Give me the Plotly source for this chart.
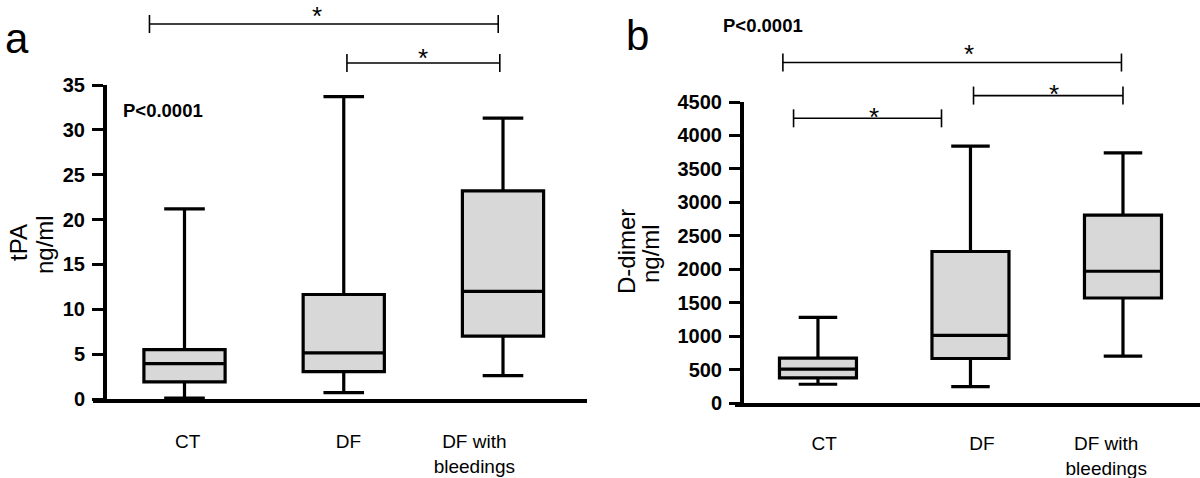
import plotly.graph_objects as go

# ---------------- data ----------------
categories = ["CT", "DF", "DF with<br>bleedings"]

# panel a : tPA (ng/ml)
tpa_lower = [0.1, 0.7, 2.6]
tpa_q1 = [1.9, 3.05, 7.0]
tpa_median = [3.95, 5.15, 12.0]
tpa_q3 = [5.5, 11.65, 23.2]
tpa_upper = [21.2, 33.7, 31.3]
tpa_ticks = [0, 5, 10, 15, 20, 25, 30, 35]

# panel b : D-dimer (ng/ml)
dd_lower = [280, 245, 700]
dd_q1 = [375, 665, 1570]
dd_median = [505, 1010, 1970]
dd_q3 = [670, 2265, 2810]
dd_upper = [1280, 3840, 3740]
dd_ticks = [0, 500, 1000, 1500, 2000, 2500, 3000, 3500, 4000, 4500]

# significance brackets: from, to (category position), height, star position, star height
tpa_brackets = [(-0.22, 1.97, 41.8, 0.83, 43.4), (1.02, 1.98, 37.45, 1.5, 38.7)]
dd_brackets = [(-0.23, 1.99, 5090, 0.99, 5306), (1.02, 2.0, 4596, 1.55, 4709),
               (-0.16, 0.81, 4256, 0.37, 4365)]

p_text = "P<0.0001"

# ---------------- layout constants ----------------
W, H = 1200, 478
FONT = "Liberation Sans, Arial, Helvetica, sans-serif"
positions = list(range(len(categories)))

# panel geometry
xa_dom = [93 / W, 587 / W]
xa_rng = [-0.5746, 2.5275]
ya_dom = [(H - 399) / H, (H - 85) / H]
ya_rng = [0, 35]
ya_pos = 105 / W
xa_lab_off = [0.02, 0.03, -0.18]

xb_dom = [735 / W, 1.0]
xb_rng = [-0.544, 2.505]
yb_dom = [(H - 403) / H, (H - 102) / H]
yb_rng = [0, 4500]
yb_pos = 742 / W
xb_lab_off = [0.04, 0.075, -0.11]


def to_paper(v, dom, rng):
    return dom[0] + (v - rng[0]) / (rng[1] - rng[0]) * (dom[1] - dom[0])


fig = go.Figure()

box_style = dict(fillcolor="#d8d8d8", line=dict(color="black", width=3.2),
                 whiskerwidth=0.5, boxpoints=False, showlegend=False)

fig.add_trace(go.Box(x=positions, lowerfence=tpa_lower, q1=tpa_q1, median=tpa_median,
                     q3=tpa_q3, upperfence=tpa_upper, width=0.51,
                     xaxis="x", yaxis="y", **box_style))
fig.add_trace(go.Box(x=positions, lowerfence=dd_lower, q1=dd_q1, median=dd_median,
                     q3=dd_q3, upperfence=dd_upper, width=0.505,
                     xaxis="x2", yaxis="y2", **box_style))

xcommon = dict(showline=True, linewidth=4, linecolor="black", ticks="", showgrid=False,
               zeroline=False, tickfont=dict(family=FONT, size=19, color="black"),
               automargin=False, fixedrange=True)
ycommon = dict(showline=True, linewidth=4, linecolor="black", ticks="outside", ticklen=11,
               tickwidth=3, tickcolor="black", showgrid=False, zeroline=False,
               tickfont=dict(family=FONT, size=20, color="black", weight="bold"),
               ticklabelstandoff=3, anchor="free", automargin=False, fixedrange=True)

fig.update_layout(
    width=W, height=H, margin=dict(l=0, r=0, t=0, b=0, pad=0, autoexpand=False),
    paper_bgcolor="white", plot_bgcolor="white",
    font=dict(family=FONT, color="black"),
    xaxis=dict(domain=xa_dom, range=xa_rng, anchor="y", ticklabelstandoff=22,
               tickvals=[p + o for p, o in zip(positions, xa_lab_off)],
               ticktext=categories, **xcommon),
    yaxis=dict(domain=ya_dom, range=ya_rng, position=ya_pos, tickvals=tpa_ticks, **ycommon),
    xaxis2=dict(domain=xb_dom, range=xb_rng, anchor="y2", ticklabelstandoff=20,
                tickvals=[p + o for p, o in zip(positions, xb_lab_off)],
                ticktext=categories, **xcommon),
    yaxis2=dict(domain=yb_dom, range=yb_rng, position=yb_pos, tickvals=dd_ticks, **ycommon),
)

shapes = []
annotations = []
TICK = 9 / H


def add_brackets(brackets, xref, dom, rng):
    for x0, x1, yv, sx, sy in brackets:
        yp = to_paper(yv, dom, rng)
        line = dict(color="black", width=1.6)
        shapes.append(dict(type="line", xref=xref, yref="paper", x0=x0, x1=x1, y0=yp, y1=yp, line=line))
        for xe in (x0, x1):
            shapes.append(dict(type="line", xref=xref, yref="paper", x0=xe, x1=xe,
                               y0=yp - TICK, y1=yp + TICK, line=line))
        annotations.append(dict(text="*", xref=xref, yref="paper", x=sx, y=to_paper(sy, dom, rng),
                                showarrow=False, xanchor="center", yanchor="middle", yshift=-6,
                                font=dict(family=FONT, size=26, color="black")))


add_brackets(tpa_brackets, "x", ya_dom, ya_rng)
add_brackets(dd_brackets, "x2", yb_dom, yb_rng)


def txt(text, xpx, ypx, size, bold=False, angle=0):
    annotations.append(dict(text=text, xref="paper", yref="paper", x=xpx / W, y=(H - ypx) / H,
                            xanchor="center", yanchor="middle", showarrow=False, textangle=angle,
                            font=dict(family=FONT, size=size, color="black",
                                      weight="bold" if bold else "normal")))


# panel letters
txt("a", 17, 38, 42)
txt("b", 637, 35, 42)
# p values
txt(p_text, 163, 110, 18.5, bold=True)
txt(p_text, 763, 25, 18.5, bold=True)
# y-axis titles
txt("tPA", 18, 243, 24, angle=-90)
txt("ng/ml", 44, 245, 24, angle=-90)
txt("D-dimer", 627, 252, 24, angle=-90)
txt("ng/ml", 650, 254, 24, angle=-90)

fig.update_layout(shapes=shapes, annotations=annotations)
fig.write_html("out.html", config={"displayModeBar": False},
               post_script="document.body.style.margin='0px';document.body.style.overflow='hidden';")
